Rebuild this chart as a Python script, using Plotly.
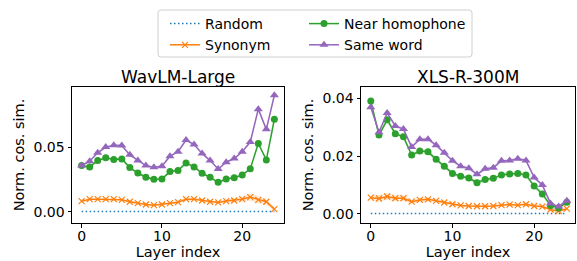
import plotly.graph_objects as go

layers = list(range(25))

# WavLM-Large
wav_random = [0.0002] * 25
wav_synonym = [0.0083, 0.0098, 0.0098, 0.0098, 0.0098, 0.0093, 0.0078, 0.0067, 0.0057, 0.0052,
               0.0057, 0.0067, 0.0075, 0.0098, 0.0098, 0.0088, 0.0078, 0.0073, 0.0083, 0.0088,
               0.0098, 0.0114, 0.0093, 0.0078, 0.0021]
wav_synonym_err = [0.0008, 0.0008, 0.0008, 0.0008, 0.0008, 0.0008, 0.0008, 0.0008, 0.0008, 0.0008,
                   0.0008, 0.0008, 0.0010, 0.0014, 0.0012, 0.0010, 0.0010, 0.0010, 0.0012, 0.0014,
                   0.0020, 0.0030, 0.0030, 0.0025, 0.0012]
wav_near = [0.0357, 0.0347, 0.0396, 0.0417, 0.0404, 0.0409, 0.0342, 0.0300, 0.0267, 0.0251,
            0.0254, 0.0311, 0.0319, 0.0378, 0.0347, 0.0298, 0.0267, 0.0228, 0.0254, 0.0264,
            0.0285, 0.0332, 0.0528, 0.0401, 0.0715]
wav_near_err = [0.0010] * 25
wav_same = [0.0357, 0.0391, 0.0456, 0.0500, 0.0515, 0.0513, 0.0440, 0.0396, 0.0357, 0.0344,
            0.0352, 0.0430, 0.0464, 0.0554, 0.0520, 0.0450, 0.0396, 0.0331, 0.0383, 0.0412,
            0.0464, 0.0539, 0.0793, 0.0637, 0.0900]
wav_same_err = [0.0008] * 25

# XLS-R-300M
xls_random = [0.0001] * 25
xls_synonym = [0.0056, 0.0053, 0.0060, 0.0054, 0.0054, 0.0042, 0.0048, 0.0050, 0.0045, 0.0039,
               0.0033, 0.0029, 0.0027, 0.0026, 0.0026, 0.0027, 0.0030, 0.0032, 0.0030, 0.0033,
               0.0027, 0.0025, 0.0015, 0.0009, 0.0018]
xls_synonym_err = [0.0012, 0.0012, 0.0012, 0.0010, 0.0010, 0.0008, 0.0008, 0.0008, 0.0006, 0.0006,
                   0.0005, 0.0005, 0.0005, 0.0005, 0.0005, 0.0005, 0.0005, 0.0005, 0.0005, 0.0005,
                   0.0005, 0.0006, 0.0008, 0.0008, 0.0006]
xls_near = [0.0391, 0.0273, 0.0326, 0.0278, 0.0267, 0.0204, 0.0218, 0.0215, 0.0189, 0.0165,
            0.0140, 0.0130, 0.0124, 0.0108, 0.0119, 0.0123, 0.0135, 0.0138, 0.0140, 0.0135,
            0.0096, 0.0069, 0.0029, 0.0020, 0.0040]
xls_near_err = [0.0008] * 25
xls_same = [0.0370, 0.0283, 0.0350, 0.0305, 0.0294, 0.0232, 0.0259, 0.0259, 0.0238, 0.0212,
            0.0184, 0.0165, 0.0158, 0.0137, 0.0156, 0.0160, 0.0184, 0.0185, 0.0191, 0.0185,
            0.0126, 0.0100, 0.0036, 0.0025, 0.0045]
xls_same_err = [0.0006] * 25

titles = ["WavLM-Large", "XLS-R-300M"]
x_ticks = [0, 10, 20]
wav_y_ticks = [0.00, 0.05]
xls_y_ticks = [0.00, 0.02, 0.04]

C_RANDOM = "#1f77b4"
C_SYN = "#ff7f0e"
C_NEAR = "#2ca02c"
C_SAME = "#9467bd"

FONT = "DejaVu Sans"


def rgba(hex_color, a):
    h = hex_color.lstrip("#")
    r, g, b = int(h[0:2], 16), int(h[2:4], 16), int(h[4:6], 16)
    return f"rgba({r},{g},{b},{a})"


fig = go.Figure()

panels = [
    ("x", "y", wav_random, wav_synonym, wav_synonym_err, wav_near, wav_near_err, wav_same, wav_same_err),
    ("x2", "y2", xls_random, xls_synonym, xls_synonym_err, xls_near, xls_near_err, xls_same, xls_same_err),
]

for pi, (xa, ya, rnd, syn, syn_e, near, near_e, same, same_e) in enumerate(panels):
    show = pi == 0
    for vals, errs, col in [(syn, syn_e, C_SYN), (near, near_e, C_NEAR), (same, same_e, C_SAME)]:
        lo = [v - e for v, e in zip(vals, errs)]
        hi = [v + e for v, e in zip(vals, errs)]
        fig.add_trace(go.Scatter(x=layers, y=lo, xaxis=xa, yaxis=ya, mode="lines",
                                 line=dict(width=0, color=col), showlegend=False, hoverinfo="skip"))
        fig.add_trace(go.Scatter(x=layers, y=hi, xaxis=xa, yaxis=ya, mode="lines",
                                 line=dict(width=0, color=col), fill="tonexty",
                                 fillcolor=rgba(col, 0.15), showlegend=False, hoverinfo="skip"))
    fig.add_trace(go.Scatter(x=layers, y=rnd, xaxis=xa, yaxis=ya, mode="lines", name="Random",
                             line=dict(color=C_RANDOM, width=1.5, dash="1.5px,2.5px"),
                             showlegend=show, legend="legend", legendgroup="a"))
    fig.add_trace(go.Scatter(x=layers, y=syn, xaxis=xa, yaxis=ya, mode="lines+markers", name="Synonym",
                             line=dict(color=C_SYN, width=1.5),
                             marker=dict(symbol="x-thin", size=6, line=dict(width=1.2, color=C_SYN)),
                             showlegend=show, legend="legend", legendgroup="b"))
    fig.add_trace(go.Scatter(x=layers, y=near, xaxis=xa, yaxis=ya, mode="lines+markers", name="Near homophone",
                             line=dict(color=C_NEAR, width=1.5),
                             marker=dict(symbol="circle", size=7, color=C_NEAR),
                             showlegend=show, legend="legend2", legendgroup="c"))
    fig.add_trace(go.Scatter(x=layers, y=same, xaxis=xa, yaxis=ya, mode="lines+markers", name="Same word",
                             line=dict(color=C_SAME, width=1.5),
                             marker=dict(symbol="triangle-up", size=8, color=C_SAME),
                             showlegend=show, legend="legend2", legendgroup="d"))

W, H = 577, 261


def px(x):
    return x / W


def py(y):
    return (H - y) / H


y_dom = [py(223), py(87)]
axis_common = dict(showline=True, mirror=True, linecolor="black", linewidth=1,
                   ticks="outside", ticklen=3.5, tickwidth=1, tickcolor="black",
                   showgrid=False, zeroline=False,
                   tickfont=dict(family=FONT, size=14, color="black"))
xtitle = dict(text="Layer index", standoff=3, font=dict(size=14.5))
ytitle = dict(text="Norm. cos. sim.", standoff=5, font=dict(size=14.5))

legend_common = dict(orientation="v", yanchor="top", bgcolor="rgba(0,0,0,0)", borderwidth=0,
                     font=dict(family=FONT, size=14, color="black"), tracegroupgap=0,
                     itemwidth=30)

# rounded legend frame
x0, x1, y0, y1, r = px(158), px(472), py(57), py(10), 3
rx, ry = r / W, r / H
frame = (f"M {x0 + rx},{y1} L {x1 - rx},{y1} Q {x1},{y1} {x1},{y1 - ry} "
         f"L {x1},{y0 + ry} Q {x1},{y0} {x1 - rx},{y0} L {x0 + rx},{y0} "
         f"Q {x0},{y0} {x0},{y0 + ry} L {x0},{y1 - ry} Q {x0},{y1} {x0 + rx},{y1} Z")

fig.update_layout(
    width=W, height=H,
    margin=dict(l=0, r=0, t=0, b=0, autoexpand=False),
    paper_bgcolor="white", plot_bgcolor="white",
    font=dict(family=FONT, size=14, color="black"),
    showlegend=True,
    legend=dict(x=px(165), y=py(8), **legend_common),
    legend2=dict(x=px(304), y=py(8), **legend_common),
    shapes=[dict(type="path", path=frame, xref="paper", yref="paper",
                 line=dict(color="#d0d0d0", width=1), fillcolor="rgba(255,255,255,0.8)", layer="below")],
    xaxis=dict(domain=[px(72), px(284)], range=[-1.2, 25.2], tickvals=x_ticks,
               title=xtitle, anchor="y", ticklabelstandoff=-3, **axis_common),
    yaxis=dict(domain=y_dom, range=[-0.0086, 0.0964], tickvals=wav_y_ticks,
               ticktext=[f"{v:.2f}" for v in wav_y_ticks],
               title=ytitle, anchor="x", **axis_common),
    xaxis2=dict(domain=[px(361), px(575)], range=[-1.2, 25.0], tickvals=x_ticks,
                title=xtitle, anchor="y2", ticklabelstandoff=-3, **axis_common),
    yaxis2=dict(domain=y_dom, range=[-0.0032, 0.044], tickvals=xls_y_ticks,
                ticktext=[f"{v:.2f}" for v in xls_y_ticks],
                title=ytitle, anchor="x2", **axis_common),
    annotations=[
        dict(text=titles[0], x=px((72 + 284) / 2), y=py(76.5), xref="paper", yref="paper",
             showarrow=False, font=dict(size=17), xanchor="center", yanchor="middle"),
        dict(text=titles[1], x=px((361 + 575) / 2), y=py(76.5), xref="paper", yref="paper",
             showarrow=False, font=dict(size=17), xanchor="center", yanchor="middle"),
    ],
)

fig.write_html("out.html", config={"displayModeBar": False},
               post_script="document.body.style.margin='0';")
